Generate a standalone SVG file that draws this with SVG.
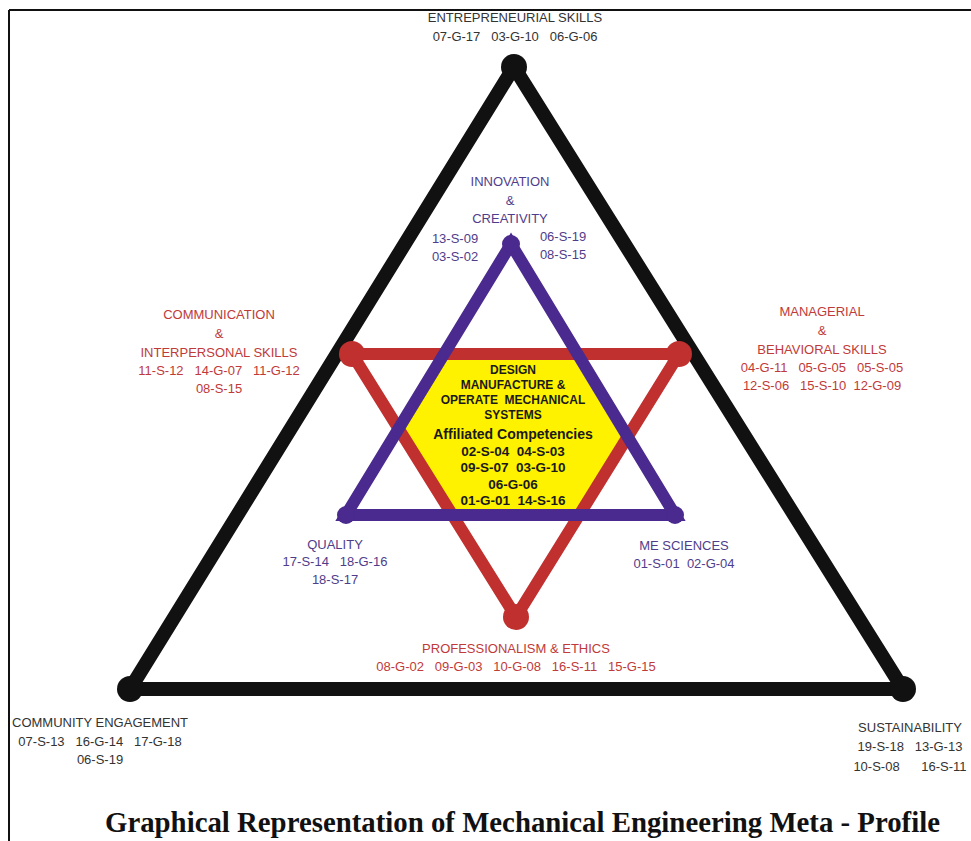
<svg xmlns="http://www.w3.org/2000/svg" width="971" height="841" viewBox="0 0 971 841">
<style>
.lbl{font-family:"Liberation Sans",Arial,sans-serif;font-size:13px;text-anchor:middle}
.gray{fill:#333}
.pur{fill:#4f3d8c}
.red{fill:#c03a3a}
.ctr{font-family:"Liberation Sans",Arial,sans-serif;font-weight:bold;text-anchor:middle;fill:#1a1a1a}
.title{font-family:"Liberation Serif","Times New Roman",serif;font-weight:bold;font-size:29px;fill:#111}
.blk{stroke:#111;stroke-width:14;fill:none;stroke-linejoin:round}
.prp{stroke:#4a2a8e;stroke-width:12;fill:none}
.rd{stroke:#c0302f;stroke-width:12;fill:none}
</style>
<rect width="971" height="841" fill="#fff"/>
<g id="frame" stroke="#111" stroke-width="2">
<line x1="9" y1="10" x2="971" y2="10"/>
<line x1="9" y1="10" x2="9" y2="841"/>
</g>
<g id="connectors">
<polygon class="blk" points="514,67 130,689 903,689"/>
<polygon id="hex" points="444,354 578,354 626,434 579,515 452,515 400,431" fill="#fff200"/>
<polygon class="rd" points="352,354 679,354 516,617"/>
<polygon class="prp" points="511,244 346,515 675,515"/>
</g>
<g id="n-entrepreneurial">
<circle cx="514" cy="67" r="13" fill="#111"/>
<text class="lbl gray" x="515" y="22">ENTREPRENEURIAL SKILLS</text>
<text class="lbl gray" x="515" y="41" xml:space="preserve">07-G-17   03-G-10   06-G-06</text>
</g>
<g id="n-community">
<circle cx="130" cy="689" r="13" fill="#111"/>
<text class="lbl gray" x="100" y="727">COMMUNITY ENGAGEMENT</text>
<text class="lbl gray" x="100" y="746" xml:space="preserve">07-S-13   16-G-14   17-G-18</text>
<text class="lbl gray" x="100" y="764">06-S-19</text>
</g>
<g id="n-sustainability">
<circle cx="903" cy="689" r="13" fill="#111"/>
<text class="lbl gray" x="910" y="732">SUSTAINABILITY</text>
<text class="lbl gray" x="910" y="751" xml:space="preserve">19-S-18   13-G-13</text>
<text class="lbl gray" x="910" y="771" xml:space="preserve">10-S-08      16-S-11</text>
</g>
<g id="n-innovation">
<circle cx="511" cy="244" r="9" fill="#4a2a8e"/>
<text class="lbl pur" x="510" y="186">INNOVATION</text>
<text class="lbl pur" x="510" y="205">&amp;</text>
<text class="lbl pur" x="510" y="223">CREATIVITY</text>
<text class="lbl pur" x="455" y="243">13-S-09</text>
<text class="lbl pur" x="455" y="261">03-S-02</text>
<text class="lbl pur" x="563" y="241">06-S-19</text>
<text class="lbl pur" x="563" y="259">08-S-15</text>
</g>
<g id="n-quality">
<circle cx="346" cy="515" r="9" fill="#4a2a8e"/>
<text class="lbl pur" x="335" y="549">QUALITY</text>
<text class="lbl pur" x="335" y="566" xml:space="preserve">17-S-14   18-G-16</text>
<text class="lbl pur" x="335" y="584">18-S-17</text>
</g>
<g id="n-mesciences">
<circle cx="675" cy="515" r="9" fill="#4a2a8e"/>
<text class="lbl pur" x="684" y="550">ME SCIENCES</text>
<text class="lbl pur" x="684" y="568" xml:space="preserve">01-S-01  02-G-04</text>
</g>
<g id="n-communication">
<circle cx="352" cy="354" r="13" fill="#c0302f"/>
<text class="lbl red" x="219" y="319">COMMUNICATION</text>
<text class="lbl red" x="219" y="338">&amp;</text>
<text class="lbl red" x="219" y="357">INTERPERSONAL SKILLS</text>
<text class="lbl red" x="219" y="375" xml:space="preserve">11-S-12   14-G-07   11-G-12</text>
<text class="lbl red" x="219" y="393">08-S-15</text>
</g>
<g id="n-managerial">
<circle cx="679" cy="354" r="13" fill="#c0302f"/>
<text class="lbl red" x="822" y="316">MANAGERIAL</text>
<text class="lbl red" x="822" y="335">&amp;</text>
<text class="lbl red" x="822" y="354">BEHAVIORAL SKILLS</text>
<text class="lbl red" x="822" y="372" xml:space="preserve">04-G-11   05-G-05   05-S-05</text>
<text class="lbl red" x="822" y="390" xml:space="preserve">12-S-06   15-S-10  12-G-09</text>
</g>
<g id="n-professionalism">
<circle cx="516" cy="617" r="13" fill="#c0302f"/>
<text class="lbl red" x="516" y="653">PROFESSIONALISM &amp; ETHICS</text>
<text class="lbl red" x="516" y="671" xml:space="preserve">08-G-02   09-G-03   10-G-08   16-S-11   15-G-15</text>
</g>
<g id="n-center">
<text class="ctr" font-size="12" x="513" y="374">DESIGN</text>
<text class="ctr" font-size="12" x="513" y="389">MANUFACTURE &amp;</text>
<text class="ctr" font-size="12" x="513" y="404" xml:space="preserve">OPERATE  MECHANICAL</text>
<text class="ctr" font-size="12" x="513" y="419">SYSTEMS</text>
<text class="ctr" font-size="14" x="513" y="439">Affiliated Competencies</text>
<text class="ctr" font-size="13.5" x="513" y="456" xml:space="preserve">02-S-04  04-S-03</text>
<text class="ctr" font-size="13.5" x="513" y="472" xml:space="preserve">09-S-07  03-G-10</text>
<text class="ctr" font-size="13.5" x="513" y="489">06-G-06</text>
<text class="ctr" font-size="13.5" x="513" y="505" xml:space="preserve">01-G-01  14-S-16</text>
</g>
<text class="title" x="105" y="832" textLength="835" lengthAdjust="spacingAndGlyphs">Graphical Representation of Mechanical Engineering Meta - Profile</text>
</svg>
